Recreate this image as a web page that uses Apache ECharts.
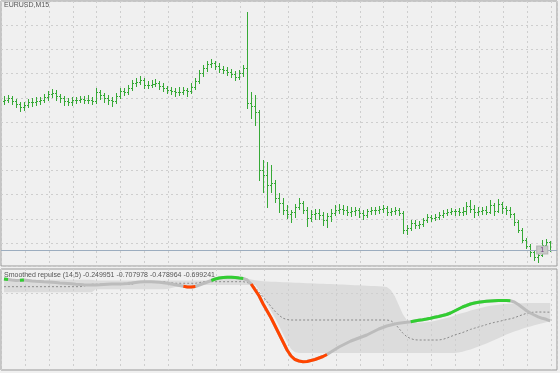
<!DOCTYPE html>
<html><head><meta charset="utf-8">
<script src="https://cdn.jsdelivr.net/npm/echarts@6/dist/echarts.min.js"></script>
<style>html,body{margin:0;padding:0;background:#f0f0f0;}#c{width:560px;height:373px;}</style>
</head><body><div id="c"></div>
<script>
const symbolName = 'EURUSD,M15';
const open = [
1.0800,1.0801,1.0803,1.0800,1.0797,1.0794,1.0796,1.0799,1.0799,1.0800,
1.0801,1.0804,1.0807,1.0808,1.0805,1.0803,1.0800,1.0799,1.0801,1.0801,
1.0802,1.0801,1.0801,1.0800,1.0809,1.0806,1.0803,1.0801,1.0800,1.0805,
1.0810,1.0809,1.0813,1.0818,1.0819,1.0821,1.0816,1.0816,1.0817,1.0818,
1.0815,1.0813,1.0811,1.0810,1.0809,1.0809,1.0811,1.0810,1.0814,1.0820,
1.0828,1.0833,1.0837,1.0838,1.0835,1.0832,1.0831,1.0829,1.0827,1.0824,
1.0828,1.0833,1.0798,1.0795,1.0789,1.0731,1.0726,1.0716,1.0718,1.0703,
1.0698,1.0691,1.0687,1.0689,1.0694,1.0698,1.0691,1.0683,1.0687,1.0688,
1.0686,1.0681,1.0685,1.0688,1.0691,1.0692,1.0691,1.0689,1.0690,1.0691,
1.0688,1.0686,1.0690,1.0691,1.0691,1.0692,1.0693,1.0689,1.0690,1.0691,
1.0688,1.0671,1.0673,1.0678,1.0676,1.0677,1.0681,1.0684,1.0683,1.0684,
1.0686,1.0688,1.0689,1.0690,1.0690,1.0689,1.0690,1.0695,1.0692,1.0689,
1.0690,1.0691,1.0689,1.0696,1.0690,1.0697,1.0693,1.0691,1.0687,1.0679,
1.0671,1.0661,1.0655,1.0649,1.0644,1.0646,1.0656,1.0659];
const high = [
1.0805,1.0806,1.0805,1.0802,1.0799,1.0799,1.0802,1.0803,1.0804,1.0804,
1.0807,1.0810,1.0812,1.0811,1.0807,1.0805,1.0803,1.0804,1.0804,1.0805,
1.0805,1.0806,1.0804,1.0813,1.0811,1.0808,1.0806,1.0804,1.0808,1.0813,
1.0813,1.0816,1.0821,1.0823,1.0825,1.0823,1.0820,1.0821,1.0822,1.0820,
1.0818,1.0815,1.0814,1.0813,1.0814,1.0814,1.0813,1.0818,1.0823,1.0831,
1.0836,1.0840,1.0842,1.0840,1.0838,1.0835,1.0834,1.0832,1.0830,1.0831,
1.0836,1.0889,1.0809,1.0806,1.0791,1.0741,1.0739,1.0736,1.0721,1.0708,
1.0703,1.0696,1.0691,1.0697,1.0703,1.0700,1.0694,1.0691,1.0692,1.0692,
1.0689,1.0688,1.0692,1.0696,1.0697,1.0696,1.0695,1.0694,1.0694,1.0693,
1.0691,1.0692,1.0694,1.0694,1.0695,1.0696,1.0695,1.0693,1.0694,1.0693,
1.0690,1.0676,1.0681,1.0681,1.0680,1.0683,1.0687,1.0686,1.0687,1.0689,
1.0691,1.0692,1.0693,1.0692,1.0693,1.0694,1.0699,1.0701,1.0696,1.0694,
1.0694,1.0695,1.0701,1.0698,1.0702,1.0699,1.0695,1.0694,1.0688,1.0681,
1.0673,1.0663,1.0657,1.0651,1.0649,1.0661,1.0662,1.0660];
const low = [
1.0797,1.0799,1.0797,1.0794,1.0790,1.0791,1.0794,1.0795,1.0796,1.0797,
1.0799,1.0801,1.0804,1.0801,1.0799,1.0796,1.0796,1.0796,1.0798,1.0799,
1.0798,1.0798,1.0797,1.0798,1.0802,1.0799,1.0797,1.0795,1.0798,1.0803,
1.0806,1.0807,1.0811,1.0815,1.0817,1.0813,1.0813,1.0814,1.0815,1.0812,
1.0810,1.0808,1.0807,1.0805,1.0806,1.0807,1.0805,1.0808,1.0812,1.0818,
1.0825,1.0830,1.0834,1.0832,1.0829,1.0828,1.0826,1.0824,1.0821,1.0822,
1.0825,1.0793,1.0783,1.0776,1.0721,1.0709,1.0694,1.0709,1.0699,1.0689,
1.0687,1.0683,1.0679,1.0684,1.0692,1.0688,1.0675,1.0680,1.0682,1.0682,
1.0676,1.0674,1.0680,1.0686,1.0688,1.0687,1.0686,1.0685,1.0686,1.0684,
1.0682,1.0684,1.0687,1.0687,1.0688,1.0689,1.0686,1.0686,1.0687,1.0686,
1.0668,1.0667,1.0671,1.0673,1.0673,1.0675,1.0679,1.0680,1.0681,1.0682,
1.0684,1.0686,1.0687,1.0686,1.0686,1.0686,1.0687,1.0689,1.0684,1.0686,
1.0687,1.0687,1.0688,1.0686,1.0689,1.0688,1.0687,1.0684,1.0676,1.0669,
1.0659,1.0653,1.0645,1.0641,1.0639,1.0645,1.0649,1.0650];
const close = [
1.0801,1.0803,1.0800,1.0797,1.0794,1.0796,1.0799,1.0799,1.0800,1.0801,
1.0804,1.0807,1.0808,1.0805,1.0803,1.0800,1.0799,1.0801,1.0801,1.0802,
1.0801,1.0801,1.0800,1.0809,1.0806,1.0803,1.0801,1.0800,1.0805,1.0810,
1.0809,1.0813,1.0818,1.0819,1.0821,1.0816,1.0816,1.0817,1.0818,1.0815,
1.0813,1.0811,1.0810,1.0809,1.0809,1.0811,1.0810,1.0814,1.0820,1.0828,
1.0833,1.0837,1.0838,1.0835,1.0832,1.0831,1.0829,1.0827,1.0824,1.0828,
1.0833,1.0798,1.0795,1.0789,1.0731,1.0726,1.0716,1.0718,1.0703,1.0698,
1.0691,1.0687,1.0689,1.0694,1.0698,1.0691,1.0683,1.0687,1.0688,1.0686,
1.0681,1.0685,1.0688,1.0691,1.0692,1.0691,1.0689,1.0690,1.0691,1.0688,
1.0686,1.0690,1.0691,1.0691,1.0692,1.0693,1.0689,1.0690,1.0691,1.0688,
1.0671,1.0673,1.0678,1.0676,1.0677,1.0681,1.0684,1.0683,1.0684,1.0686,
1.0688,1.0689,1.0690,1.0690,1.0689,1.0690,1.0695,1.0692,1.0689,1.0690,
1.0691,1.0689,1.0696,1.0690,1.0697,1.0693,1.0691,1.0687,1.0679,1.0671,
1.0661,1.0655,1.0649,1.0644,1.0646,1.0656,1.0659,1.0651];

const indName = 'Smoothed repulse';
const indParams = [14, 5];
const repMain = [
0.35,0.338,0.325,0.313,0.318,0.325,0.313,0.3,0.293,0.288,
0.28,0.275,0.268,0.26,0.25,0.245,0.24,0.23,0.22,0.213,
0.205,0.2,0.2,0.198,0.205,0.213,0.22,0.225,0.224,0.226,
0.23,0.238,0.25,0.263,0.275,0.283,0.283,0.28,0.275,0.268,
0.258,0.245,0.225,0.205,0.188,0.168,0.15,0.152,0.163,0.2,
0.238,0.275,0.313,0.35,0.375,0.388,0.395,0.396,0.388,0.375,
0.363,0.325,0.225,0.075,-0.075,-0.275,-0.45,-0.625,-0.825,-1.025,
-1.225,-1.425,-1.575,-1.663,-1.7,-1.718,-1.713,-1.688,-1.663,-1.625,
-1.588,-1.538,-1.475,-1.413,-1.35,-1.3,-1.25,-1.2,-1.163,-1.125,
-1.088,-1.05,-1.0,-0.95,-0.9,-0.863,-0.825,-0.8,-0.775,-0.758,
-0.745,-0.733,-0.718,-0.7,-0.683,-0.668,-0.65,-0.63,-0.608,-0.588,
-0.563,-0.538,-0.5,-0.45,-0.4,-0.35,-0.313,-0.275,-0.25,-0.233,
-0.22,-0.208,-0.2,-0.193,-0.188,-0.187,-0.188,-0.195,-0.225,-0.288,
-0.363,-0.438,-0.5,-0.55,-0.595,-0.633,-0.658,-0.699241];
const bandUpper = [
0.35,0.338,0.338,0.338,0.318,0.325,0.33,0.33,0.33,0.33,
0.33,0.33,0.33,0.33,0.33,0.33,0.33,0.33,0.33,0.33,
0.33,0.33,0.33,0.31,0.31,0.31,0.31,0.31,0.31,0.31,
0.31,0.31,0.31,0.31,0.31,0.31,0.31,0.31,0.31,0.31,
0.31,0.31,0.31,0.31,0.31,0.31,0.31,0.31,0.31,0.31,
0.31,0.31,0.313,0.35,0.375,0.388,0.395,0.396,0.39,0.385,
0.375,0.36,0.34,0.32,0.305,0.295,0.288,0.283,0.279,0.275,
0.27,0.266,0.262,0.258,0.254,0.25,0.246,0.242,0.238,0.234,
0.23,0.226,0.222,0.218,0.214,0.21,0.205,0.2,0.196,0.192,
0.188,0.183,0.178,0.172,0.166,0.16,0.15,0.075,-0.075,-0.3,
-0.525,-0.675,-0.725,-0.738,-0.743,-0.738,-0.73,-0.72,-0.7,-0.675,
-0.65,-0.625,-0.6,-0.563,-0.525,-0.5,-0.475,-0.438,-0.413,-0.388,
-0.363,-0.338,-0.32,-0.305,-0.295,-0.283,-0.275,-0.268,-0.263,-0.258,
-0.255,-0.253,-0.252,-0.251,-0.25,-0.25,-0.25,-0.249951];
const bandLower = [
0.02,0.02,0.02,0.02,0.02,0.02,0.02,0.02,0.02,0.02,
0.02,0.02,0.02,0.02,0.02,0.02,0.02,0.02,0.02,0.02,
0.02,0.02,0.02,0.093,0.093,0.093,0.093,0.093,0.093,0.093,
0.093,0.093,0.093,0.093,0.093,0.093,0.093,0.093,0.093,0.093,
0.093,0.1,0.125,0.15,0.155,0.16,0.16,0.16,0.165,0.2,
0.2,0.2,0.2,0.2,0.2,0.2,0.2,0.2,0.2,0.2,
0.2,0.2,0.2,0.2,0.075,-0.075,-0.275,-0.45,-0.625,-0.825,
-1.025,-1.225,-1.4,-1.48,-1.5,-1.5,-1.5,-1.5,-1.5,-1.5,
-1.5,-1.5,-1.5,-1.5,-1.5,-1.5,-1.5,-1.5,-1.5,-1.5,
-1.5,-1.5,-1.5,-1.5,-1.5,-1.5,-1.5,-1.5,-1.5,-1.5,
-1.5,-1.5,-1.5,-1.5,-1.5,-1.5,-1.5,-1.5,-1.5,-1.5,
-1.5,-1.5,-1.5,-1.5,-1.49,-1.47,-1.44,-1.41,-1.375,-1.34,
-1.3,-1.26,-1.22,-1.175,-1.13,-1.085,-1.04,-1.0,-0.965,-0.93,
-0.895,-0.865,-0.835,-0.805,-0.78,-0.755,-0.73,-0.707978];
const bandMid = [
0.158,0.158,0.158,0.158,0.158,0.158,0.158,0.158,0.158,0.158,
0.158,0.158,0.158,0.158,0.158,0.158,0.158,0.158,0.158,0.158,
0.17,0.2,0.218,0.218,0.218,0.218,0.218,0.218,0.218,0.218,
0.218,0.218,0.218,0.25,0.283,0.283,0.283,0.283,0.283,0.283,
0.283,0.27,0.255,0.243,0.243,0.243,0.243,0.243,0.243,0.26,
0.283,0.283,0.283,0.283,0.283,0.283,0.283,0.283,0.283,0.283,
0.283,0.26,0.24,0.14,0.02,-0.1,-0.22,-0.34,-0.46,-0.56,
-0.63,-0.665,-0.675,-0.675,-0.675,-0.675,-0.675,-0.675,-0.675,-0.675,
-0.675,-0.675,-0.675,-0.675,-0.675,-0.675,-0.675,-0.675,-0.675,-0.675,
-0.675,-0.675,-0.675,-0.675,-0.675,-0.675,-0.675,-0.69,-0.76,-0.88,
-1.0,-1.09,-1.14,-1.17,-1.175,-1.175,-1.175,-1.175,-1.175,-1.175,
-1.16,-1.13,-1.09,-1.05,-1.02,-0.99,-0.95,-0.91,-0.88,-0.85,
-0.82,-0.79,-0.76,-0.735,-0.715,-0.69,-0.665,-0.645,-0.62,-0.58,
-0.545,-0.51,-0.49,-0.478,-0.475,-0.476,-0.478,-0.478964];
const upSegments = [[0,1],[4,5],[52,60],[102,127]];
const downSegments = [[45,48],[62,81]];
const indLevels = [0];
const tradeMarks = [{bar: 135, label: '1'}];

const N = close.length;
const idx = close.map((_, i) => i);
const ohlcData = idx.map(i => [i, open[i], high[i], low[i], close[i]]);
const pairs = arr => idx.map(i => [i, arr[i]]);
function segData(ranges) {
  const out = idx.map(() => null);
  ranges.forEach(([a, b]) => { for (let i = a; i <= b; i++) out[i] = repMain[i]; });
  return idx.map(i => [i, out[i]]);
}
const bid = close[N - 1];
const indTitle = indName + ' (' + indParams.join(',') + ') ' +
  [bandUpper, bandLower, bandMid, repMain].map(a => a[N - 1].toFixed(6)).join(' ');

const barColor = '#36a936';
const gridLine = {show: true, lineStyle: {color: '#cecece', type: [2, 3], width: 1}};
const helperAxis = (grid, max, extra) => Object.assign({
  gridIndex: grid, type: 'value', min: 0, max: max, interval: 1,
  axisLine: {show: false}, axisTick: {show: false}, axisLabel: {show: false},
  splitLine: gridLine
}, extra || {});
const font = 'Liberation Sans, Arial, sans-serif';

const chart = echarts.init(document.getElementById('c'), null, {renderer: 'canvas'});
chart.setOption({
  animation: false,
  backgroundColor: '#f0f0f0',
  title: [
    {text: symbolName, left: 4, top: 2, padding: 0,
     textStyle: {fontSize: 7, fontFamily: font, color: '#555555', fontWeight: 'normal'}},
    {text: indTitle, left: 4, top: 271.5, padding: 0,
     textStyle: {fontSize: 7, fontFamily: font, color: '#555555', fontWeight: 'normal'}}
  ],
  grid: [
    {left: 1, top: 1, width: 556, height: 265, show: true, borderColor: '#9a9a9a', borderWidth: 1, backgroundColor: 'transparent'},
    {left: 1, top: 269, width: 556, height: 101, show: true, borderColor: '#9a9a9a', borderWidth: 1, backgroundColor: 'transparent'}
  ],
  xAxis: [
    {gridIndex: 0, type: 'value', min: -0.75, max: 138.7, show: false},
    helperAxis(0, 23.244),
    {gridIndex: 1, type: 'value', min: -0.75, max: 138.7, show: false},
    helperAxis(1, 23.244)
  ],
  yAxis: [
    {gridIndex: 0, type: 'value', min: 1.0635, max: 1.0900, show: false},
    helperAxis(0, 10.95, {inverse: true}),
    {gridIndex: 1, type: 'value', min: -1.925, max: 0.6, show: false}
  ],
  series: [
    {
      type: 'custom', xAxisIndex: 0, yAxisIndex: 0, data: ohlcData, silent: true, clip: true,
      encode: {x: 0, y: [1, 2, 3, 4]},
      renderItem: function (params, api) {
        const x = api.value(0);
        const pO = api.coord([x, api.value(1)]);
        const pH = api.coord([x, api.value(2)]);
        const pL = api.coord([x, api.value(3)]);
        const pC = api.coord([x, api.value(4)]);
        const xi = Math.round(pH[0]);
        const yH = Math.round(pH[1]), yL = Math.round(pL[1]);
        const st = {fill: barColor};
        return {type: 'group', children: [
          {type: 'rect', shape: {x: xi, y: yH, width: 1, height: Math.max(1, yL - yH + 1)}, style: st},
          {type: 'rect', shape: {x: xi - 1, y: Math.round(pO[1]), width: 1, height: 1}, style: st},
          {type: 'rect', shape: {x: xi + 1, y: Math.round(pC[1]), width: 1, height: 1}, style: st}
        ]};
      }
    },
    {
      type: 'line', xAxisIndex: 0, yAxisIndex: 0, data: [[N - 1, bid]], symbol: 'none', silent: true,
      lineStyle: {opacity: 0},
      markLine: {silent: true, precision: 5, symbol: ['none', 'none'], label: {show: false},
        lineStyle: {color: '#9cadbf', width: 1, type: 'solid'},
        data: [{yAxis: bid}]},
      markPoint: {silent: true,
        data: tradeMarks.map(t => ({coord: [t.bar, bid], value: t.label})),
        symbol: 'rect', symbolSize: [11, 8],
        itemStyle: {color: '#c9c9c9', borderColor: '#b5b5b5', borderWidth: 1},
        label: {show: true, formatter: p => p.value, fontSize: 7, color: '#6b3b7b', fontFamily: font}}
    },
    {
      type: 'custom', xAxisIndex: 2, yAxisIndex: 2, data: pairs(bandUpper), silent: true, clip: true, z: -1,
      encode: {x: 0, y: 1},
      renderItem: function (params, api) {
        if (params.dataIndex !== 0) return null;
        const pts = [];
        for (let i = 0; i < N; i++) pts.push(api.coord([i, bandUpper[i]]));
        for (let i = N - 1; i >= 0; i--) pts.push(api.coord([i, bandLower[i]]));
        return {type: 'polygon', shape: {points: pts}, style: {fill: '#dcdcdc'}};
      }
    },
    {
      type: 'line', xAxisIndex: 2, yAxisIndex: 2, data: pairs(bandMid), symbol: 'none', silent: true, z: 3,
      lineStyle: {color: '#8a8a8a', width: 1, type: [2, 2]},
      markLine: {silent: true, precision: 5, symbol: ['none', 'none'], label: {show: false},
        lineStyle: {color: '#cfcfcf', width: 1, type: [2, 3]},
        data: indLevels.map(v => ({yAxis: v}))}
    },
    {
      type: 'line', xAxisIndex: 2, yAxisIndex: 2, data: pairs(repMain), symbol: 'none', silent: true, z: 4,
      lineStyle: {color: '#bcbcbc', width: 3}
    },
    {
      type: 'line', xAxisIndex: 2, yAxisIndex: 2, data: segData(upSegments), symbol: 'none', silent: true, z: 5,
      connectNulls: false, lineStyle: {color: '#32cd32', width: 3}
    },
    {
      type: 'line', xAxisIndex: 2, yAxisIndex: 2, data: segData(downSegments), symbol: 'none', silent: true, z: 5,
      connectNulls: false, lineStyle: {color: '#ff4500', width: 3}
    }
  ]
});
</script>
</body></html>
